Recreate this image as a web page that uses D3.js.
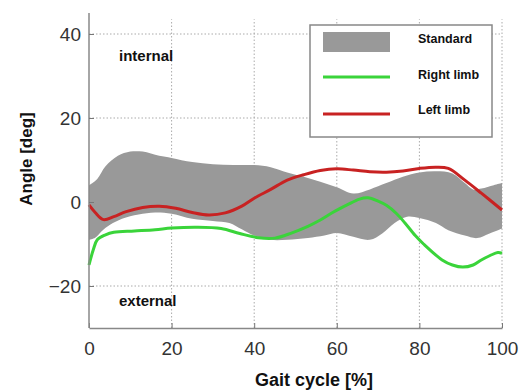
<!DOCTYPE html>
<html>
<head>
<meta charset="utf-8">
<script src="https://cdn.jsdelivr.net/npm/d3@7"></script>
<style>
  body { margin: 0; background: #fff; }
  svg { display: block; font-family: Arial, "Liberation Sans", sans-serif; }
</style>
</head>
<body>
<svg id="chart" width="519" height="392"></svg>
<script>
// gait cycle [%] / angle [deg]
const bandUpperX = [0, 2, 4, 7, 10, 13, 17, 20, 25, 30, 35, 40, 44, 48, 52, 56, 60, 64, 68, 72, 76, 80, 84, 88, 91, 93, 95, 98, 100];
const bandUpperY = [4, 5.5, 8.5, 11, 12, 12, 11, 10.5, 9.5, 9, 8.8, 8.8, 8.3, 7, 6, 4.8, 3.5, 2, 3, 4.5, 6, 7, 7.3, 6.8, 4.5, 3, 3.2, 4, 4.5];
const bandLowerX = [0, 1.5, 3, 5, 8, 12, 16, 20, 25, 30, 34, 37, 40, 44, 48, 53, 57, 60, 64, 68, 71, 74, 77, 80, 84, 87, 91, 94, 97, 100];
const bandLowerY = [-9, -8.5, -7, -5.5, -4, -3, -2.5, -2.8, -4, -4.5, -5, -6.5, -8, -9, -9, -8.6, -8, -7.4, -8.3, -9, -7.5, -5, -3.5, -3.8, -5, -6.7, -8, -8.6, -7.5, -6.3];

const redX = [0, 1.5, 3.5, 6, 9, 13, 17, 21, 25, 29, 33, 37, 40, 44, 48, 52, 56, 60, 64, 68, 72, 76, 80, 84, 87, 91, 95, 100];
const redY = [-0.7, -2.5, -4.2, -3.5, -2.3, -1.3, -1, -1.5, -2.5, -3.1, -2.6, -1, 0.9, 3, 5.2, 6.5, 7.5, 7.9, 7.6, 7.2, 7.1, 7.4, 8, 8.3, 8, 5.2, 2.1, -1.9];

const greenX = [0, 1, 2, 4, 6, 11, 16, 20, 26, 32, 36.5, 41, 45, 49, 53, 56, 59, 62.5, 65.5, 67.5, 70, 72, 74.5, 76.5, 79, 81, 85.5, 88, 90.5, 93, 95, 97, 99, 100];
const greenY = [-15, -11.5, -9, -7.8, -7.2, -6.9, -6.6, -6.2, -6, -6.3, -7.5, -8.5, -8.6, -7.4, -5.8, -4.3, -2.5, -0.7, 0.7, 1, 0.2, -0.8, -2.8, -5, -8, -10, -13.8, -15, -15.5, -15, -13.8, -12.8, -12, -12.2];

const xTicks = [0, 20, 40, 60, 80, 100];
const yTicks = [-20, 0, 20, 40];
const legendLabels = ["Standard", "Right limb", "Left limb"];

const svg = d3.select("#chart");

const x = d3.scaleLinear().domain([0, 100]).range([89, 502]);
const y = d3.scaleLinear().domain([-30, 45]).range([328, 13]);

// grid
const grid = svg.append("g")
    .attr("stroke", "#aaa")
    .attr("stroke-width", 1)
    .attr("stroke-dasharray", "1.5,2");
grid.selectAll("line.vx")
    .data(xTicks.filter(d => d > 0))
    .join("line")
        .attr("x1", d => x(d)).attr("x2", d => x(d))
        .attr("y1", y(-30)).attr("y2", y(43.5));
grid.selectAll("line.hy")
    .data(yTicks)
    .join("line")
        .attr("x1", x(0)).attr("x2", x(100))
        .attr("y1", d => y(d)).attr("y2", d => y(d));

// standard band
const band = bandUpperX.map((v, i) => [v, bandUpperY[i]]);
const bandLow = bandLowerX.map((v, i) => [v, bandLowerY[i]]).reverse();
const bandLine = d3.line()
    .x(d => x(d[0]))
    .y(d => y(d[1]))
    .curve(d3.curveCatmullRom);
svg.append("path")
    .attr("d", bandLine(band) + "L" + bandLine(bandLow).slice(1) + "Z")
    .attr("fill", "#999");

const line = d3.line()
    .x(d => x(d[0]))
    .y(d => y(d[1]))
    .curve(d3.curveCatmullRom);

svg.append("path")
    .datum(greenX.map((v, i) => [v, greenY[i]]))
    .attr("d", line)
    .attr("fill", "none")
    .attr("stroke", "#3ad43a")
    .attr("stroke-width", 3);

svg.append("path")
    .datum(redX.map((v, i) => [v, redY[i]]))
    .attr("d", line)
    .attr("fill", "none")
    .attr("stroke", "#c82222")
    .attr("stroke-width", 3);

// axes
const xAxis = svg.append("g")
    .attr("transform", `translate(0,${y(-30)})`)
    .call(d3.axisBottom(x).tickValues(xTicks).tickSizeInner(-5).tickSizeOuter(0).tickPadding(14));
const yAxis = svg.append("g")
    .attr("transform", `translate(${x(0)},0)`)
    .call(d3.axisLeft(y).tickValues(yTicks).tickSizeInner(-5).tickSizeOuter(0).tickPadding(8));
yAxis.select(".domain").attr("d", `M0,${y(-30)}V${y(45)}`);
[xAxis, yAxis].forEach(a => {
    a.select(".domain").attr("stroke", "#888").attr("stroke-width", 1.5);
    a.selectAll(".tick line").attr("stroke", "#777");
    a.selectAll(".tick text")
        .attr("fill", "#333")
        .style("font-size", "19px")
        .style("font-family", "Arial, 'Liberation Sans', sans-serif");
});

// annotations
svg.append("text")
    .attr("x", 119).attr("y", 61)
    .attr("font-size", 15).attr("font-weight", "bold").attr("fill", "#111")
    .text("internal");
svg.append("text")
    .attr("x", 119).attr("y", 306)
    .attr("font-size", 15).attr("font-weight", "bold").attr("fill", "#111")
    .text("external");

// axis titles
svg.append("text")
    .attr("transform", "translate(32,159) rotate(-90)")
    .attr("text-anchor", "middle")
    .attr("font-size", 17).attr("font-weight", "bold").attr("fill", "#111")
    .text("Angle [deg]");
svg.append("text")
    .attr("x", 314).attr("y", 386)
    .attr("text-anchor", "middle")
    .attr("font-size", 18).attr("font-weight", "bold").attr("fill", "#111")
    .text("Gait cycle [%]");

// legend
const lg = svg.append("g");
lg.append("rect")
    .attr("x", 310).attr("y", 25).attr("width", 182).attr("height", 112)
    .attr("fill", "#fff").attr("stroke", "#888").attr("stroke-width", 1.5);
lg.append("rect")
    .attr("x", 323).attr("y", 32).attr("width", 67).attr("height", 20)
    .attr("fill", "#999");
lg.append("line")
    .attr("x1", 323).attr("x2", 390).attr("y1", 77).attr("y2", 77)
    .attr("stroke", "#3ad43a").attr("stroke-width", 3);
lg.append("line")
    .attr("x1", 323).attr("x2", 390).attr("y1", 114).attr("y2", 114)
    .attr("stroke", "#c82222").attr("stroke-width", 3);
lg.selectAll("text.lab")
    .data(legendLabels)
    .join("text")
        .attr("x", 418)
        .attr("y", (d, i) => [43, 79, 114][i])
        .attr("font-size", 12.5).attr("font-weight", "bold").attr("fill", "#111")
        .text(d => d);
</script>
</body>
</html>
